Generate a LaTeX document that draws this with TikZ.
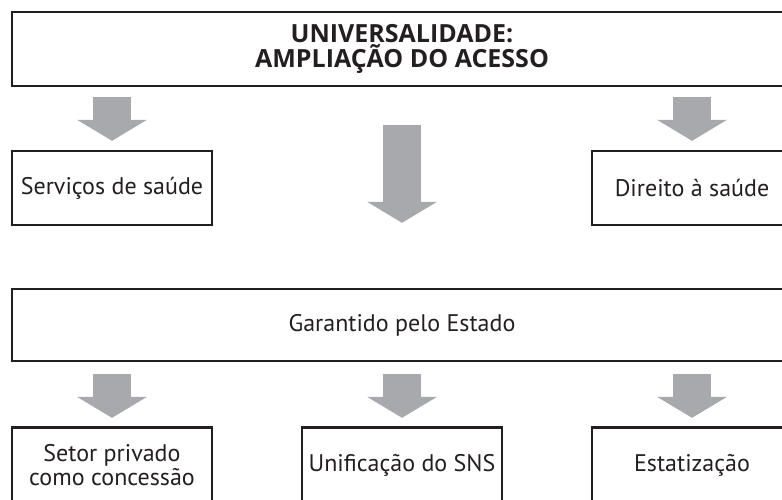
\documentclass[tikz,border=0pt]{standalone}
\usepackage{fontspec}
\setmainfont{PT Sans}
\newfontfamily\titlefont{Open Sans}
\usetikzlibrary{positioning, arrows.meta}
\definecolor{ink}{HTML}{231F20}
\definecolor{arrowgray}{HTML}{A7A9AC}

\begin{document}
\begin{tikzpicture}[x=1pt,y=-1pt,node distance=290pt,
    box node/.style={rectangle,draw=ink,line width=2.4pt,text=ink,minimum width=200pt,minimum height=74pt,
                     align=center,inner sep=0pt,font=\fontsize{24}{24}\selectfont},
    wide node/.style={box node,minimum width=780pt},
    big arrow/.style={draw=arrowgray,line width=38pt,-{Triangle[width=70pt,length=21pt,line width=0pt]}}]

    \clip (0,0) rectangle (782,500);

    \node[wide node,font=\titlefont\bfseries\fontsize{25}{25}\selectfont] (1) at (402,49) {UNIVERSALIDADE:\\AMPLIAÇÃO DO ACESSO};
    \node[box node] (2) at (112,188) {Serviços de saúde};
    \node[box node] (3) at (692,188) {Direito à saúde};
    \node[wide node,minimum height=72pt] (4) at (402,325) {Garantido pelo Estado};
    \node[box node,minimum height=75pt] (5) at (112,465) {Setor privado\\como concessão};
    \node[box node,minimum height=75pt] (6) [right of=5] {Unificação do SNS};
    \node[box node,minimum height=75pt] (7) [right of=6] {Estatização};

    \path[every edge/.style={big arrow}]
        (1.south -| 2.north) edge[shorten <=10pt,shorten >=9pt] (2.north)
        (1.south -| 3.north) edge[shorten <=10pt,shorten >=9pt] (3.north)
        (1.south) edge[shorten <=38pt,shorten >=65pt] (4.north)
        (4.south -| 5.north) edge[shorten <=12pt,shorten >=8.5pt] (5.north)
        (4.south) edge[shorten <=12pt,shorten >=8.5pt] (6.north)
        (4.south -| 7.north) edge[shorten <=12pt,shorten >=8.5pt] (7.north);
\end{tikzpicture}
\end{document}
